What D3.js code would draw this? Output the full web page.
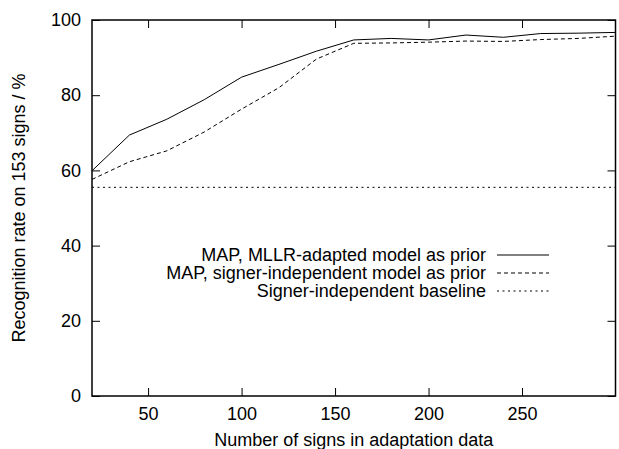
<!DOCTYPE html>
<html>
<head>
<meta charset="utf-8">
<script src="https://cdn.jsdelivr.net/npm/d3@7"></script>
<style>
  body { margin: 0; background: #fff; }
  svg text { font-family: "Liberation Sans", Arial, sans-serif; font-size: 18px; fill: #000; }
</style>
</head>
<body>
<svg id="chart" width="619" height="449"></svg>
<script>
// adaptation curves, values
var signs = [20, 40, 60, 80, 100, 120, 140, 160, 180, 200, 220, 240, 260, 280, 300];
var mllrPrior = [59.9, 69.4, 73.6, 78.8, 84.8, 88.2, 91.7, 94.7, 95.1, 94.7, 96.0, 95.4, 96.4, 96.5, 96.7];
var siPrior   = [57.6, 62.3, 65.2, 70.2, 76.3, 82.0, 89.6, 93.8, 93.9, 94.1, 94.4, 94.3, 94.8, 95.1, 95.7];
var baseline = 55.5;

var xTicks = [50, 100, 150, 200, 250];
var yTicks = [0, 20, 40, 60, 80, 100];

var seriesNames = [
  "MAP, MLLR-adapted model as prior",
  "MAP, signer-independent model as prior",
  "Signer-independent baseline"
];
var dashes = [null, "4,3", "2,3.5"];

var margin = {top: 20, right: 4, bottom: 53, left: 92};
var width = 615.5 - margin.left;
var height = 396 - margin.top;

var svg = d3.select("#chart");
var g = svg.append("g").attr("transform", "translate(" + margin.left + "," + margin.top + ")");

var x = d3.scaleLinear().domain([20, 300]).range([0, width]);
var y = d3.scaleLinear().domain([0, 100]).range([height, 0]);

// axes with inward ticks, mirrored on top/right like gnuplot
var tk = 8;
var xAxis = g.append("g").attr("transform", "translate(0," + height + ")")
  .call(d3.axisBottom(x).tickValues(xTicks).tickSize(-tk).tickPadding(0));
xAxis.selectAll(".tick text").attr("dy", null).attr("y", 24);
g.append("g")
  .call(d3.axisTop(x).tickValues(xTicks).tickSize(-tk).tickFormat(""));
g.append("g")
  .call(d3.axisLeft(y).tickValues(yTicks).tickSize(-tk).tickPadding(tk + 3));
g.append("g").attr("transform", "translate(" + width + ",0)")
  .call(d3.axisRight(y).tickValues(yTicks).tickSize(-tk).tickFormat(""));

g.selectAll(".domain").remove();
g.selectAll(".tick line").attr("stroke", "#000").attr("stroke-width", 1);
g.selectAll(".tick text").attr("fill", "#000");

g.append("rect")
  .attr("width", width).attr("height", height)
  .attr("fill", "none").attr("stroke", "#000").attr("stroke-width", 1.5);

var line = d3.line()
  .x(function(d) { return x(d[0]); })
  .y(function(d) { return y(d[1]); });

var curves = [mllrPrior, siPrior].map(function(vals) {
  return signs.map(function(s, i) { return [s, vals[i]]; });
});

curves.forEach(function(c, i) {
  g.append("path")
    .attr("d", line(c))
    .attr("fill", "none")
    .attr("stroke", "#000")
    .attr("stroke-width", 1)
    .attr("stroke-dasharray", dashes[i]);
});

g.append("path")
  .attr("d", line([[20, baseline], [300, baseline]]))
  .attr("fill", "none")
  .attr("stroke", "#000")
  .attr("stroke-width", 1)
  .attr("stroke-dasharray", dashes[2]);

// legend
var legend = svg.append("g");
seriesNames.forEach(function(name, i) {
  var ly = 255 + i * 18;
  legend.append("text")
    .attr("x", 486).attr("y", ly).attr("dy", "0.35em")
    .attr("text-anchor", "end")
    .text(name);
  legend.append("line")
    .attr("x1", 497).attr("x2", 549)
    .attr("y1", ly).attr("y2", ly)
    .attr("stroke", "#000").attr("stroke-width", 1)
    .attr("stroke-dasharray", dashes[i]);
});

// axis titles
svg.append("text")
  .attr("x", margin.left + width / 2).attr("y", 446)
  .attr("text-anchor", "middle")
  .text("Number of signs in adaptation data");

svg.append("text")
  .attr("transform", "translate(25,208) rotate(-90)")
  .attr("text-anchor", "middle")
  .text("Recognition rate on 153 signs / %");
</script>
</body>
</html>
